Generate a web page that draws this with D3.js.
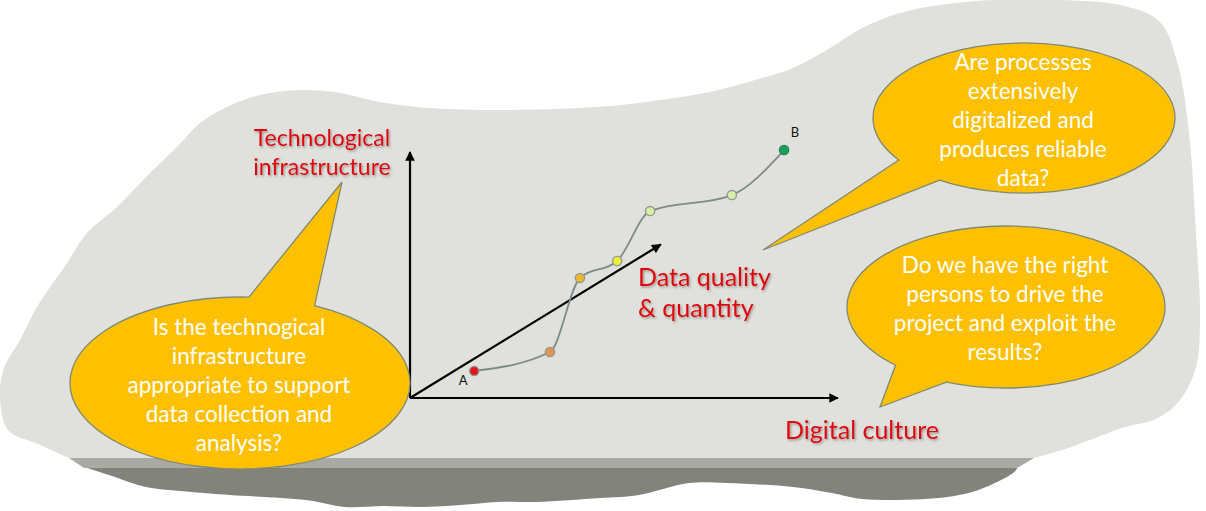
<!DOCTYPE html>
<html>
<head>
<meta charset="utf-8">
<script src="https://cdn.jsdelivr.net/npm/d3@7"></script>
<style>
    html, body { margin: 0; padding: 0; background: #ffffff; }
    svg { display: block; }
    .bubble-text { font-family: Lato, "Open Sans", sans-serif; font-size: 22.5px; fill: #ffffff; }
    .axis-label { font-family: Lato, "Open Sans", sans-serif; fill: #e2060f; }
    .stage-label { font-family: Lato, "Open Sans", sans-serif; font-size: 13px; fill: #111111; }
</style>
</head>
<body>
<script>
(function() {
    'use strict';

    // stages of the path from A to B (digital culture / technological infrastructure units, 0..100)
    const stageNames = ["A", "", "", "", "", "", "B"];
    const stageCulture = [15.0, 32.7, 39.7, 48.4, 56.1, 75.2, 87.4];
    const stageInfra = [11.0, 18.7, 48.8, 55.7, 76.0, 82.5, 100.8];
    const stageColors = ["#e8141c", "#e8924a", "#f2b52e", "#eef032", "#d9f0a3", "#daf0a8", "#1f9d5b"];

    // the three axes, by their end point in the same units
    const axisNames = ["Digital culture", "Technological infrastructure", "Data quality & quantity"];
    const axisEndCulture = [100, 0, 58.6];
    const axisEndInfra = [0, 100, 62.4];

    // the three questions
    const questions = [
        ["Is the technogical", "infrastructure", "appropriate to support", "data collection and", "analysis?"],
        ["Are processes", "extensively", "digitalized and", "produces reliable", "data?"],
        ["Do we have the right", "persons to drive the", "project and exploit the", "results?"]
    ];

    let width = 1206;
    let height = 511;

    let x = d3.scaleLinear().domain([0, 100]).range([410, 838]);
    let y = d3.scaleLinear().domain([0, 100]).range([398, 152]);

    // backdrop outline (decoration)
    let blobOutline = [
        [69, 458], [38, 444], [8, 430], [0, 395], [4, 368], [20, 340], [37, 307], [67, 263],
        [87, 233], [117, 207], [150, 173], [177, 147], [200, 123], [227, 107], [260, 95],
        [300, 90], [335, 92], [380, 102], [430, 108], [510, 110], [610, 106], [660, 100],
        [710, 92], [755, 80], [793, 68], [830, 48], [862, 28], [900, 13], [940, 5], [993, 0],
        [1060, 0], [1125, 6], [1160, 22], [1178, 65], [1189, 133], [1196, 233], [1200, 317],
        [1196, 367], [1180, 400], [1158, 418], [1122, 428], [1090, 440], [1062, 450], [1034, 458]
    ];
    let shadowOutline = [
        [84, 467], [1017, 467], [986, 487], [947, 497], [862, 499], [832, 493], [793, 487],
        [727, 483], [689, 483], [639, 495], [600, 498], [536, 502], [498, 502], [460, 505],
        [421, 507], [383, 506], [345, 507], [306, 500], [230, 495], [192, 492], [146, 487], [115, 477]
    ];

    // callout geometry: ellipse centre, radii, tail base angles and tail tip
    let bubbles = [
        { cx: 240, cy: 383, rx: 170, ry: 86, t1: -87, t2: -64, tip: [342, 182] },
        { cx: 1024, cy: 118, rx: 151, ry: 75, t1: 124, t2: 146, tip: [763, 250] },
        { cx: 1006, cy: 307, rx: 159, ry: 81, t1: 112, t2: 134, tip: [880, 407] }
    ];

    function bubblePath(b) {
        function at(t) {
            let r = t / 180 * Math.PI;
            return [b.cx + b.rx * Math.cos(r), b.cy + b.ry * Math.sin(r)];
        }
        let p1 = at(b.t1), p2 = at(b.t2);
        return "M" + p1 + "L" + b.tip + "L" + p2 +
            "A" + b.rx + "," + b.ry + " 0 1 1 " + p1 + "Z";
    }

    function init() {
        let svg = d3.select("body").append("svg")
            .attr("width", width)
            .attr("height", height);

        let defs = svg.append("defs");
        defs.append("marker")
            .attr("id", "arrow")
            .attr("viewBox", "0 0 10 10")
            .attr("refX", 9)
            .attr("refY", 5)
            .attr("markerWidth", 5)
            .attr("markerHeight", 4.4)
            .attr("markerUnits", "strokeWidth")
            .attr("orient", "auto")
            .append("path")
            .attr("d", "M0,0L10,5L0,10Z")
            .attr("fill", "#000000");

        let shadow = defs.append("filter")
            .attr("id", "txtshadow")
            .attr("x", "-10%").attr("y", "-20%")
            .attr("width", "120%").attr("height", "150%");
        shadow.append("feDropShadow")
            .attr("dx", 1.2)
            .attr("dy", 1.5)
            .attr("stdDeviation", 0.9)
            .attr("flood-color", "#555555")
            .attr("flood-opacity", 0.55);

        // backdrop
        let outline = d3.line().curve(d3.curveCatmullRom.alpha(0.5));
        svg.append("path")
            .attr("d", outline(shadowOutline) + "Z")
            .attr("fill", "#82837b");
        svg.append("path")
            .attr("d", "M69,458L1034,458L1017,468L84,468Z")
            .attr("fill", "#a9aaa4");
        svg.append("path")
            .attr("d", outline(blobOutline) + "Z")
            .attr("fill", "#e0e1dc");

        // axes
        let origin = [x(0), y(0)];
        svg.append("g").selectAll("line")
            .data(axisNames)
            .enter()
            .append("line")
            .attr("x1", origin[0])
            .attr("y1", origin[1])
            .attr("x2", function(d, i) { return x(axisEndCulture[i]); })
            .attr("y2", function(d, i) { return y(axisEndInfra[i]); })
            .attr("stroke", "#000000")
            .attr("stroke-width", 2.2)
            .attr("marker-end", "url(#arrow)");

        // axis labels
        let labels = svg.append("g").attr("filter", "url(#txtshadow)");
        labels.append("text")
            .attr("class", "axis-label")
            .attr("x", x(axisEndCulture[0]) - 53)
            .attr("y", y(0) + 32)
            .attr("dy", "0.35em")
            .style("font-size", "25px")
            .text(axisNames[0]);
        let infra = labels.append("text")
            .attr("class", "axis-label")
            .attr("text-anchor", "middle")
            .style("font-size", "23px");
        infra.append("tspan").attr("x", 322).attr("y", 138).attr("dy", "0.35em").text("Technological");
        infra.append("tspan").attr("x", 322).attr("y", 167).attr("dy", "0.35em").text("infrastructure");
        let dq = labels.append("text")
            .attr("class", "axis-label")
            .style("font-size", "25px");
        dq.append("tspan").attr("x", 638).attr("y", 277).attr("dy", "0.35em").text("Data quality");
        dq.append("tspan").attr("x", 638).attr("y", 308).attr("dy", "0.35em").text("& quantity");

        // path through the stages
        let stages = stageNames.map(function(n, i) {
            return { name: n, c: stageCulture[i], t: stageInfra[i], color: stageColors[i] };
        });
        let line = d3.line()
            .curve(d3.curveMonotoneX)
            .x(function(d) { return x(d.c); })
            .y(function(d) { return y(d.t); });
        svg.append("path")
            .datum(stages)
            .attr("d", line)
            .attr("fill", "none")
            .attr("stroke", "#7c8b8a")
            .attr("stroke-width", 1.8);

        svg.append("g").selectAll("circle")
            .data(stages)
            .enter()
            .append("circle")
            .attr("cx", function(d) { return x(d.c); })
            .attr("cy", function(d) { return y(d.t); })
            .attr("r", 4.6)
            .attr("fill", function(d) { return d.color; })
            .attr("stroke", function(d, i) { return i === stages.length - 1 ? "#1c8a50" : "#8f9a96"; })
            .attr("stroke-width", 1.4);

        svg.append("g").selectAll("text")
            .data(stages.filter(function(d) { return d.name; }))
            .enter()
            .append("text")
            .attr("class", "stage-label")
            .attr("x", function(d, i) { return x(d.c) + (i === 0 ? -11 : 11); })
            .attr("y", function(d, i) { return y(d.t) + (i === 0 ? 10 : -18); })
            .attr("dy", "0.35em")
            .attr("text-anchor", "middle")
            .text(function(d) { return d.name; });

        // question callouts
        let callout = svg.append("g").selectAll("g")
            .data(bubbles)
            .enter()
            .append("g");
        callout.append("path")
            .attr("d", bubblePath)
            .attr("fill", "#ffc000")
            .attr("stroke", "#7f8a73")
            .attr("stroke-width", 1.3);
        callout.append("text")
            .attr("class", "bubble-text")
            .attr("text-anchor", "middle")
            .each(function(b, i) {
                let lines = questions[i];
                let top = b.cy + 2 - (lines.length - 1) * 29 / 2;
                let t = d3.select(this);
                lines.forEach(function(s, j) {
                    t.append("tspan")
                        .attr("x", b.cx - 1)
                        .attr("y", top + j * 29)
                        .attr("dy", "0.35em")
                        .text(s);
                });
            });
    }

    window.onload = init;
})();
</script>
</body>
</html>
